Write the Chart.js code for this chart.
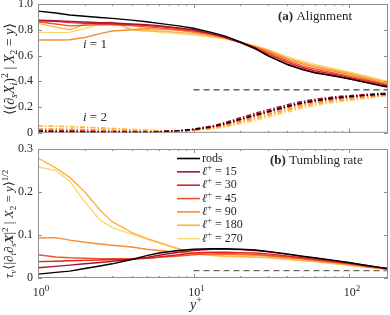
<!DOCTYPE html>
<html>
<head>
<meta charset="utf-8">
<script src="https://cdn.jsdelivr.net/npm/chart.js@4.4.0/dist/chart.umd.min.js"></script>
<style>
  body { margin: 0; background: #fff; }
  #wrap { position: relative; width: 390px; height: 315px; overflow: hidden; }
  canvas { position: absolute; left: 0; }
  #top { top: -10px; }
  #bot { top: 135px; }
</style>
</head>
<body>
<div id="wrap">
  <canvas id="top" width="390" height="155"></canvas>
  <canvas id="bot" width="390" height="180"></canvas>
</div>
<script>
// wall distance y+
const yPlus = [1, 1.3, 1.6, 2, 2.5, 3, 4, 5, 6, 8, 10, 13, 16, 20, 25, 30, 40, 50, 60, 80, 100, 130, 160, 178];
const refX = [10, 178];
const xTicks = [1, 2, 3, 4, 5, 6, 7, 8, 9, 10, 20, 30, 40, 50, 60, 70, 80, 90, 100];
const seriesNames = ['rods', '15', '30', '45', '90', '180', '270'];
const colors = ['#000000', '#a8122f', '#e2221f', '#f2542a', '#f78d35', '#fbb445', '#fdd872'];

// (a) alignment, i = 1
const align1 = [
  [0.945, 0.93, 0.915, 0.905, 0.895, 0.888, 0.875, 0.862, 0.85, 0.83, 0.812, 0.78, 0.75, 0.705, 0.655, 0.60, 0.53, 0.49, 0.465, 0.44, 0.42, 0.39, 0.365, 0.355],
  [0.875, 0.87, 0.865, 0.86, 0.855, 0.852, 0.845, 0.84, 0.832, 0.815, 0.80, 0.77, 0.74, 0.70, 0.65, 0.60, 0.535, 0.495, 0.47, 0.445, 0.42, 0.39, 0.37, 0.36],
  [0.87, 0.865, 0.855, 0.85, 0.848, 0.845, 0.84, 0.832, 0.825, 0.81, 0.795, 0.77, 0.742, 0.702, 0.658, 0.612, 0.548, 0.507, 0.482, 0.455, 0.43, 0.40, 0.378, 0.365],
  [0.862, 0.845, 0.83, 0.835, 0.84, 0.838, 0.832, 0.822, 0.815, 0.80, 0.788, 0.765, 0.74, 0.703, 0.663, 0.625, 0.56, 0.52, 0.495, 0.465, 0.44, 0.41, 0.385, 0.372],
  [0.72, 0.72, 0.722, 0.74, 0.77, 0.79, 0.80, 0.81, 0.805, 0.795, 0.78, 0.76, 0.738, 0.703, 0.668, 0.635, 0.572, 0.535, 0.51, 0.478, 0.455, 0.422, 0.395, 0.38],
  [0.85, 0.82, 0.80, 0.84, 0.855, 0.86, 0.80, 0.79, 0.79, 0.78, 0.77, 0.752, 0.733, 0.703, 0.672, 0.642, 0.582, 0.545, 0.52, 0.488, 0.465, 0.432, 0.405, 0.39],
  [0.78, 0.778, 0.78, 0.81, 0.84, 0.85, 0.84, 0.80, 0.78, 0.77, 0.758, 0.745, 0.728, 0.702, 0.675, 0.648, 0.592, 0.556, 0.53, 0.497, 0.473, 0.44, 0.413, 0.397]
];
// (a) alignment, i = 2
const align2 = [
  [0.012, 0.011, 0.01, 0.009, 0.008, 0.007, 0.006, 0.006, 0.008, 0.015, 0.026, 0.045, 0.071, 0.104, 0.138, 0.163, 0.204, 0.232, 0.248, 0.269, 0.28, 0.292, 0.299, 0.303],
  [0.01, 0.009, 0.008, 0.007, 0.006, 0.005, 0.004, 0.005, 0.008, 0.017, 0.03, 0.052, 0.081, 0.117, 0.152, 0.178, 0.218, 0.244, 0.26, 0.279, 0.289, 0.299, 0.306, 0.309],
  [0.013, 0.012, 0.011, 0.01, 0.009, 0.008, 0.006, 0.006, 0.008, 0.015, 0.027, 0.047, 0.074, 0.108, 0.142, 0.168, 0.208, 0.236, 0.252, 0.272, 0.283, 0.294, 0.301, 0.305],
  [0.02, 0.019, 0.017, 0.015, 0.013, 0.011, 0.009, 0.008, 0.009, 0.014, 0.024, 0.042, 0.066, 0.098, 0.13, 0.156, 0.196, 0.225, 0.242, 0.263, 0.275, 0.288, 0.296, 0.301],
  [0.03, 0.03, 0.028, 0.026, 0.023, 0.02, 0.015, 0.012, 0.011, 0.013, 0.021, 0.036, 0.058, 0.088, 0.118, 0.143, 0.183, 0.212, 0.231, 0.253, 0.266, 0.28, 0.29, 0.296],
  [0.05, 0.05, 0.046, 0.042, 0.037, 0.032, 0.025, 0.02, 0.017, 0.016, 0.02, 0.032, 0.05, 0.078, 0.106, 0.131, 0.171, 0.2, 0.22, 0.243, 0.257, 0.273, 0.285, 0.291],
  [0.056, 0.055, 0.05, 0.045, 0.04, 0.035, 0.028, 0.022, 0.018, 0.016, 0.019, 0.029, 0.045, 0.07, 0.095, 0.12, 0.16, 0.19, 0.21, 0.235, 0.25, 0.268, 0.283, 0.29]
];
// (b) tumbling rate
const tumble = [
  [0.009, 0.013, 0.016, 0.022, 0.028, 0.033, 0.043, 0.052, 0.058, 0.064, 0.067, 0.068, 0.068, 0.067, 0.065, 0.062, 0.056, 0.051, 0.047, 0.041, 0.036, 0.029, 0.024, 0.022],
  [0.024, 0.027, 0.03, 0.033, 0.036, 0.039, 0.043, 0.048, 0.053, 0.06, 0.064, 0.067, 0.067, 0.066, 0.064, 0.061, 0.055, 0.05, 0.046, 0.04, 0.035, 0.029, 0.024, 0.022],
  [0.038, 0.039, 0.04, 0.041, 0.042, 0.043, 0.044, 0.046, 0.049, 0.054, 0.058, 0.06, 0.06, 0.059, 0.058, 0.056, 0.051, 0.047, 0.044, 0.038, 0.034, 0.028, 0.024, 0.021],
  [0.054, 0.049, 0.047, 0.046, 0.045, 0.045, 0.045, 0.046, 0.048, 0.051, 0.054, 0.056, 0.057, 0.056, 0.055, 0.053, 0.049, 0.045, 0.042, 0.037, 0.033, 0.027, 0.023, 0.021],
  [0.093, 0.094, 0.088, 0.083, 0.079, 0.076, 0.072, 0.067, 0.064, 0.06, 0.057, 0.055, 0.055, 0.054, 0.053, 0.051, 0.047, 0.044, 0.041, 0.036, 0.032, 0.027, 0.023, 0.02],
  [0.279, 0.256, 0.234, 0.2, 0.158, 0.131, 0.106, 0.092, 0.083, 0.068, 0.057, 0.053, 0.051, 0.05, 0.049, 0.048, 0.044, 0.041, 0.039, 0.034, 0.03, 0.025, 0.022, 0.02],
  [0.258, 0.25, 0.225, 0.177, 0.135, 0.117, 0.102, 0.09, 0.081, 0.067, 0.056, 0.052, 0.05, 0.049, 0.048, 0.047, 0.043, 0.04, 0.038, 0.033, 0.029, 0.025, 0.021, 0.019]
];
const alignRef = 1 / 3;
const tumbleRef = 0.017;

const FONT = '"Liberation Serif", "DejaVu Serif", serif';
const INK = '#262626';

function series(vals, color, dash) {
  return {
    data: yPlus.map((x, i) => ({ x: x, y: vals[i] })),
    borderColor: color,
    borderWidth: 1.4,
    borderDash: dash || [],
    pointRadius: 0,
    tension: 0,
    fill: false
  };
}

function refLine(v, color) {
  return {
    data: refX.map(x => ({ x: x, y: v })),
    borderColor: color,
    borderWidth: 1,
    borderDash: [6, 4],
    pointRadius: 0,
    fill: false
  };
}

// draw text made of pieces: [text, style, shift] shift 1 = sup, -1 = sub
function rich(ctx, parts, x, y, size, align, rot) {
  ctx.save();
  ctx.translate(x, y);
  if (rot) ctx.rotate(rot);
  ctx.fillStyle = INK;
  ctx.textBaseline = 'middle';
  ctx.textAlign = 'left';
  const fnt = p => `${p[1] || ''} ${p[2] ? Math.round(size * 0.72) : size}px ${FONT}`.trim();
  let w = 0;
  parts.forEach(p => { ctx.font = fnt(p); w += ctx.measureText(p[0]).width; });
  let cx = align === 'center' ? -w / 2 : (align === 'right' ? -w : 0);
  parts.forEach(p => {
    ctx.font = fnt(p);
    const dy = p[2] === 1 ? -size * 0.35 : (p[2] === -1 ? size * 0.28 : 0);
    ctx.fillText(p[0], cx, dy);
    cx += ctx.measureText(p[0]).width;
  });
  ctx.restore();
}

// box and inward ticks, like the original figure
function framePlugin(offset, extras) {
  return {
    id: 'frame',
    afterDatasetsDraw(chart) {
      const { ctx, chartArea: a, scales: { x, y } } = chart;
      ctx.save();
      ctx.strokeStyle = '#8e8e8e';
      ctx.lineWidth = 1;
      ctx.strokeRect(a.left + 0.5, a.top + 0.5, a.right - a.left - 1, a.bottom - a.top - 1);
      ctx.beginPath();
      xTicks.forEach(v => {
        const px = Math.round(x.getPixelForValue(v)) + 0.5;
        const major = Number.isInteger(Math.log10(v));
        const len = major ? 4 : 2;
        ctx.moveTo(px, a.bottom); ctx.lineTo(px, a.bottom - len);
        ctx.moveTo(px, a.top); ctx.lineTo(px, a.top + len);
      });
      y.ticks.forEach(t => {
        const py = Math.round(y.getPixelForValue(t.value)) + 0.5;
        ctx.moveTo(a.left, py); ctx.lineTo(a.left + 4, py);
        ctx.moveTo(a.right, py); ctx.lineTo(a.right - 4, py);
      });
      ctx.stroke();
      ctx.restore();
      ctx.save();
      ctx.translate(0, -offset);
      extras(ctx, chart);
      ctx.restore();
    }
  };
}

function options(yMin, yMax, step, bottomH) {
  return {
    responsive: false,
    animation: false,
    events: [],
    layout: { padding: { top: 14, right: 2, left: 0, bottom: 0 } },
    plugins: { legend: { display: false }, tooltip: { enabled: false } },
    scales: {
      x: {
        type: 'logarithmic',
        min: 1,
        max: 178,
        ticks: { display: false },
        grid: { display: false, drawTicks: false },
        border: { display: false },
        afterFit(s) { s.height = bottomH; }
      },
      y: {
        min: yMin,
        max: yMax,
        ticks: { stepSize: step, padding: 5, color: INK, font: { family: FONT, size: 12 } },
        grid: { display: false, drawTicks: false },
        border: { display: false },
        afterFit(s) { s.width = 38; }
      }
    }
  };
}

// top panel: alignment
const topSets = [];
align1.forEach((v, k) => topSets.push(series(v, colors[k])));
align2.forEach((v, k) => topSets.push(series(v, colors[k], [5, 2, 1.5, 2])));
topSets.push(refLine(alignRef, '#111'));

new Chart(document.getElementById('top'), {
  type: 'line',
  data: { datasets: topSets },
  options: options(0, 1, 0.2, 11),
  plugins: [framePlugin(-10, ctx => {
    rich(ctx, [['(a)', 'bold'], [' Alignment', '']], 278, 17, 13, 'left');
    rich(ctx, [['i', 'italic'], [' = 1', '']], 83, 45, 13, 'left');
    rich(ctx, [['i', 'italic'], [' = 2', '']], 83, 118, 13, 'left');
    rich(ctx, [['⟨(', ''], ['∂', 'italic'], ['s', 'italic', -1], ['X', 'italic'], ['i', 'italic', -1],
      [')', ''], ['2', '', 1], [' | ', ''], ['X', 'italic'], ['2', '', -1], [' = ', ''], ['y', 'italic'], ['⟩', '']],
      10, 69, 14, 'center', -Math.PI / 2);
  })]
});

// bottom panel: tumbling rate
const botSets = tumble.map((v, k) => series(v, colors[k]));
botSets.push(refLine(tumbleRef, '#444'));

new Chart(document.getElementById('bot'), {
  type: 'line',
  data: { datasets: botSets },
  options: options(0, 0.3, 0.1, 37),
  plugins: [framePlugin(135, (ctx, chart) => {
    const x = chart.scales.x;
    rich(ctx, [['(b)', 'bold'], [' Tumbling rate', '']], 270, 161, 13, 'left');
    // legend
    seriesNames.forEach((name, k) => {
      const ry = 158.5 + k * 13.35;
      ctx.strokeStyle = colors[k];
      ctx.lineWidth = 1.6;
      ctx.beginPath();
      ctx.moveTo(177, ry); ctx.lineTo(200, ry);
      ctx.stroke();
      if (k === 0) rich(ctx, [['rods', '']], 202, ry, 12, 'left');
      else rich(ctx, [['ℓ', 'italic'], ['+', '', 1], [' = ' + name, '']], 202, ry, 12, 'left');
    });
    // x tick labels
    [1, 10, 100].forEach((v, k) => {
      const px = x.getPixelForValue(v);
      rich(ctx, [['10', ''], [String(k), '', 1]], px + 3, 293, 12, 'center');
    });
    rich(ctx, [['y', 'italic'], ['+', '', 1]], 196, 305, 14, 'center');
    rich(ctx, [['τ', 'italic'], ['ν', 'italic', -1], ['⟨|', ''], ['∂', 'italic'], ['t', 'italic', -1],
      ['∂', 'italic'], ['s', 'italic', -1], ['X', 'bold italic'], ['|', ''], ['2', '', 1], [' | ', ''],
      ['X', 'italic'], ['2', '', -1], [' = ', ''], ['y', 'italic'], ['⟩', ''], ['1/2', '', 1]],
      10, 224, 13, 'center', -Math.PI / 2);
  })]
});
</script>
</body>
</html>
